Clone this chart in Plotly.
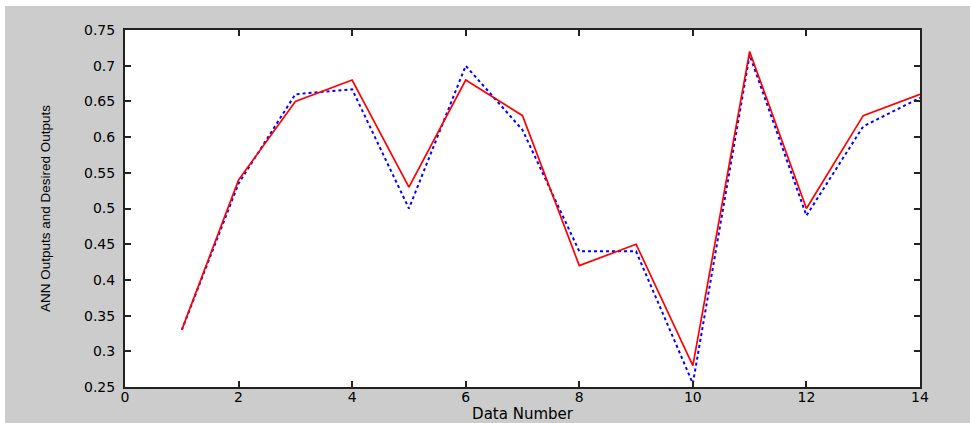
import plotly.graph_objects as go

data_number = list(range(1, 15))
desired_outputs = [0.33, 0.54, 0.65, 0.68, 0.53, 0.68, 0.63, 0.42, 0.45, 0.28, 0.72, 0.50, 0.63, 0.66]
ann_outputs = [0.33, 0.535, 0.66, 0.667, 0.50, 0.70, 0.61, 0.44, 0.44, 0.255, 0.715, 0.49, 0.615, 0.655]

x_ticks = [0, 2, 4, 6, 8, 10, 12, 14]
y_ticks = [0.25, 0.3, 0.35, 0.4, 0.45, 0.5, 0.55, 0.6, 0.65, 0.7, 0.75]
y_tick_labels = ["0.25", "0.3", "0.35", "0.4", "0.45", "0.5", "0.55", "0.6", "0.65", "0.7", "0.75"]

W, H = 970, 423
L, R, T, B = 125, 50, 30, 36

fig = go.Figure()
fig.add_trace(go.Scatter(x=data_number, y=ann_outputs, mode="lines",
                         line=dict(color="#0000ff", width=2, dash="3px,3px"),
                         showlegend=False))
fig.add_trace(go.Scatter(x=data_number, y=desired_outputs, mode="lines",
                         line=dict(color="#ff0000", width=1.7),
                         showlegend=False))

tick_font = dict(family="DejaVu Sans, Liberation Sans, Arial", size=14, color="#000000")

fig.update_layout(
    width=W, height=H,
    margin=dict(l=L, r=R, t=T, b=B, pad=0, autoexpand=False),
    paper_bgcolor="#cccccc",
    plot_bgcolor="#ffffff",
    xaxis=dict(range=[0, 14], tickvals=x_ticks, ticktext=[str(v) for v in x_ticks],
               automargin=False,
               showgrid=False, zeroline=False, showline=True, linecolor="#222222",
               linewidth=2, mirror="ticks", ticks="inside", ticklen=6, tickwidth=1.5,
               tickcolor="#222222", tickfont=tick_font, ticklabelstandoff=-4,
               title=dict(text="Data Number", standoff=9,
                          font=dict(family="DejaVu Sans, Liberation Sans, Arial", size=15, color="#000000"))),
    yaxis=dict(range=[0.25, 0.75], tickvals=y_ticks, ticktext=y_tick_labels,
               automargin=False,
               showgrid=False, zeroline=False, showline=True, linecolor="#222222",
               linewidth=2, mirror="ticks", ticks="inside", ticklen=6, tickwidth=1.5,
               tickcolor="#222222", tickfont=tick_font, ticklabelstandoff=5,
               title=dict(text="ANN Outputs and Desired Outputs", standoff=30,
                          font=dict(family="Liberation Sans, Arial", size=13.5, color="#000000"))),
)

# thin white border strips at top and left of the figure
pw = W - L - R
ph = H - T - B
fig.add_shape(type="rect", xref="paper", yref="paper", layer="below",
              x0=-L / pw, x1=(W - L) / pw, y0=1 + (T - 6) / ph, y1=1 + T / ph,
              fillcolor="#ffffff", line=dict(width=0))
fig.add_shape(type="rect", xref="paper", yref="paper", layer="below",
              x0=-L / pw, x1=(5 - L) / pw, y0=-B / ph, y1=1 + T / ph,
              fillcolor="#ffffff", line=dict(width=0))

fig.write_html("out.html", config={"displayModeBar": False},
               post_script="document.body.style.margin='0px';document.body.style.overflow='hidden';")
